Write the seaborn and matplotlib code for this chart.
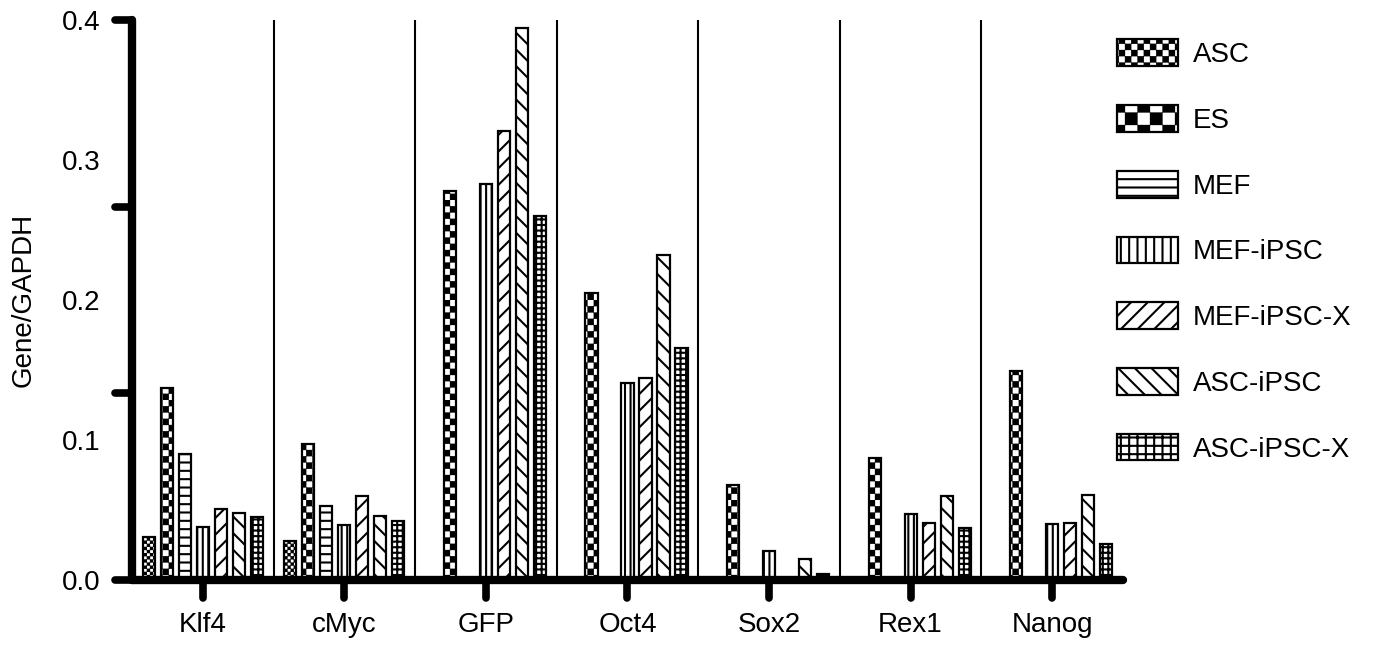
import numpy as np
import pandas as pd
import seaborn as sns
import matplotlib
matplotlib.use('Agg')
import matplotlib.pyplot as plt
from matplotlib import hatch as mhatch
from matplotlib.path import Path
from matplotlib.patches import Patch
from matplotlib.markers import MarkerStyle, TICKDOWN, TICKLEFT
from matplotlib.ticker import FixedLocator, FormatStrFormatter

genes = ['Klf4', 'cMyc', 'GFP', 'Oct4', 'Sox2', 'Rex1', 'Nanog']
samples = ['ASC', 'ES', 'MEF', 'MEF-iPSC', 'MEF-iPSC-X', 'ASC-iPSC', 'ASC-iPSC-X']

asc = [0.031, 0.028, 0.0, 0.0, 0.0, 0.0, 0.0]
es = [0.137, 0.097, 0.278, 0.205, 0.068, 0.087, 0.149]
mef = [0.090, 0.053, 0.0, 0.0, 0.0, 0.0, 0.0]
mef_ipsc = [0.038, 0.039, 0.283, 0.141, 0.021, 0.047, 0.040]
mef_ipsc_x = [0.051, 0.060, 0.321, 0.144, 0.0, 0.041, 0.041]
asc_ipsc = [0.048, 0.046, 0.394, 0.232, 0.015, 0.060, 0.061]
asc_ipsc_x = [0.045, 0.042, 0.260, 0.166, 0.004, 0.037, 0.026]

# 'c' is a checkerboard hatch added below; legend swatches use coarser ones
hatches = ['cccc', 'cc', '--', '|||', '//', '\\\\', '+++']
legend_hatches = ['cc', 'c', '--', '||', '//', '\\\\', '++']


# checkerboard hatch (matplotlib has none built in)
class CheckerHatch(mhatch.HatchPatternBase):
    def __init__(self, hatch, density):
        self.n = hatch.count('c') * 8
        self.num_vertices = (self.n * self.n // 2) * 5

    def set_vertices_and_codes(self, vertices, codes):
        s = 1.0 / self.n
        d = 0.009
        k = 0
        for i in range(self.n):
            for j in range(self.n):
                if (i + j) % 2:
                    continue
                x, y = i * s, j * s
                vertices[k:k + 5] = [(x + d, y + d), (x + s - d, y + d),
                                     (x + s - d, y + s - d), (x + d, y + s - d),
                                     (x + d, y + d)]
                codes[k:k + 5] = [Path.MOVETO, Path.LINETO, Path.LINETO,
                                  Path.LINETO, Path.CLOSEPOLY]
                k += 5


mhatch._hatch_types.append(CheckerHatch)
mhatch._validate_hatch_pattern = lambda h: None

df = pd.DataFrame({
    'gene': genes * len(samples),
    'sample': np.repeat(samples, len(genes)),
    'value': asc + es + mef + mef_ipsc + mef_ipsc_x + asc_ipsc + asc_ipsc_x,
})

sns.set_style('white')
plt.rcParams['font.family'] = ['Liberation Sans', 'DejaVu Sans']
plt.rcParams['hatch.linewidth'] = 1.5
plt.rcParams['hatch.color'] = 'black'
plt.rcParams['text.color'] = 'black'
plt.rcParams['axes.labelcolor'] = 'black'
plt.rcParams['xtick.color'] = 'black'
plt.rcParams['ytick.color'] = 'black'

fig = plt.figure(figsize=(13.75, 6.46), dpi=100)
ax = fig.add_axes([0.096, 0.1022, 0.7207, 0.8669])

sns.barplot(data=df, x='gene', y='value', hue='sample', order=genes,
            hue_order=samples, palette=['white'] * len(samples),
            width=0.89, gap=0.33, errorbar=None, edgecolor='black',
            linewidth=1.6, saturation=1, legend=False, ax=ax)

for cont, h in zip(ax.containers, hatches):
    for bar in cont:
        bar.set_hatch(h)

ax.vlines(np.arange(0.5, 6.5, 1), 0, 0.4, colors='black', linewidth=1.5,
          zorder=0.5)

ax.set_xlim(-0.5, 6.5)
ax.set_ylim(0, 0.4)
ax.set_xlabel('')
ax.set_ylabel('Gene/GAPDH', fontsize=20, labelpad=18)

ax.yaxis.set_major_locator(FixedLocator([0, 0.1, 0.2, 0.3, 0.4]))
ax.yaxis.set_major_formatter(FormatStrFormatter('%.1f'))
ax.yaxis.set_minor_locator(FixedLocator([0, 0.4 / 3, 0.8 / 3, 0.4]))
ax.yaxis.remove_overlapping_locs = False

ax.tick_params(axis='y', which='major', length=0, pad=23, labelsize=20)
ax.tick_params(axis='y', which='minor', direction='out', length=12,
               width=5.5, left=True)
ax.tick_params(axis='x', direction='out', length=13, width=5.5,
               pad=10, labelsize=20, bottom=True)

for t in ax.xaxis.get_major_ticks():
    t.tick1line.set_marker(MarkerStyle(TICKDOWN, capstyle='round'))
for t in ax.yaxis.get_minor_ticks():
    t.tick1line.set_marker(MarkerStyle(TICKLEFT, capstyle='round'))

for side in ['top', 'right']:
    ax.spines[side].set_visible(False)
for side in ['left', 'bottom']:
    ax.spines[side].set_linewidth(6)
    ax.spines[side].set_color('black')
    ax.spines[side].set_capstyle('round')

handles = [Patch(facecolor='white', edgecolor='black', linewidth=1.6,
                 hatch=h, label=s) for s, h in zip(samples, legend_hatches)]
fig.legend(handles=handles, loc='upper left', bbox_to_anchor=(0.812, 0.939),
           frameon=False, fontsize=20, handlelength=2.2, handleheight=1.1,
           labelspacing=1.33, handletextpad=0.55, borderpad=0,
           borderaxespad=0)

fig.savefig('out.png', dpi=100)
